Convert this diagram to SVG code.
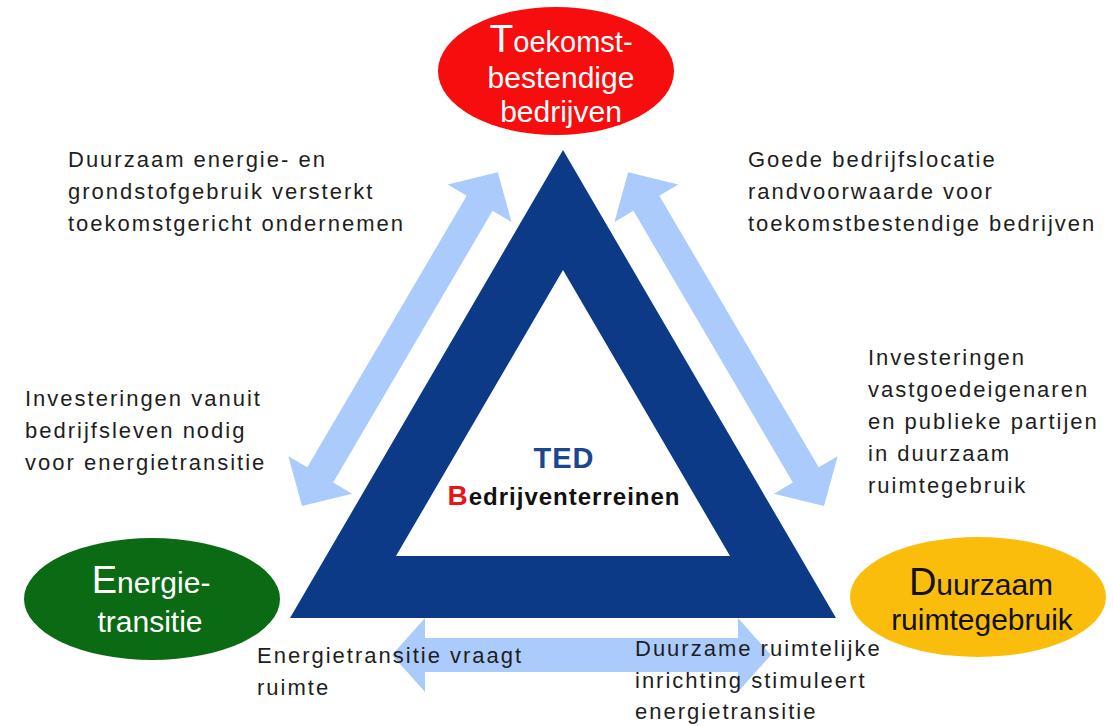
<svg xmlns="http://www.w3.org/2000/svg" width="1113" height="726" viewBox="0 0 1113 726">
  <style>
    .arrow { fill: #abcbfc; }
    .ann { font-family: "Liberation Sans", Arial, sans-serif; font-size: 22px; letter-spacing: 2px; fill: #1e1e1e; }
    .lbl { font-family: "Liberation Sans", Arial, sans-serif; font-size: 30px; text-anchor: middle; }
  </style>
  <rect width="1113" height="726" fill="#ffffff"/>

  <g id="connectors">
    <polygon class="arrow" transform="translate(302,506) rotate(-59.6)" points="0,0 36,-37 36,-15 351,-15 351,-37 387,0 351,37 351,15 36,15 36,37"/>
    <polygon class="arrow" transform="translate(824,506) rotate(-120.4)" points="0,0 36,-37 36,-15 351,-15 351,-37 387,0 351,37 351,15 36,15 36,37"/>
    <polygon class="arrow" transform="translate(392,655)" points="0,0 33,-37 33,-17 346,-17 346,-37 379,0 346,37 346,17 33,17 33,37"/>
  </g>

  <g id="ted-triangle">
    <path fill="#0c3a87" fill-rule="evenodd" d="M563,150 L836,618 L290,618 Z M563,270 L396,556 L730,556 Z"/>
    <text x="564" y="468" font-family="'Liberation Sans', Arial, sans-serif" font-size="29" font-weight="bold" fill="#1b4791" text-anchor="middle" letter-spacing="1">TED</text>
    <text x="564" y="505" font-family="'Liberation Sans', Arial, sans-serif" font-weight="bold" text-anchor="middle" letter-spacing="1"><tspan font-size="28" fill="#e8161b">B</tspan><tspan font-size="24" fill="#111">edrijventerreinen</tspan></text>
  </g>

  <g id="node-toekomst">
    <ellipse cx="556" cy="71" rx="118" ry="64" fill="#f70d0d"/>
    <text class="lbl" fill="#ffffff" x="561" y="52"><tspan font-size="39">T</tspan><tspan font-size="29">oekomst-</tspan></text>
    <text class="lbl" fill="#ffffff" x="561" y="88" font-size="29">bestendige</text>
    <text class="lbl" fill="#ffffff" x="561" y="122" font-size="29">bedrijven</text>
  </g>

  <g id="node-energie">
    <ellipse cx="152" cy="599" rx="128" ry="61" fill="#0b6a14"/>
    <text class="lbl" fill="#ffffff" x="151" y="593"><tspan font-size="38">E</tspan><tspan font-size="30">nergie-</tspan></text>
    <text class="lbl" fill="#ffffff" x="150" y="632">transitie</text>
  </g>

  <g id="node-duurzaam">
    <ellipse cx="978" cy="597" rx="128" ry="60" fill="#fbbd0c"/>
    <text class="lbl" fill="#111111" x="981" y="595"><tspan font-size="38">D</tspan><tspan font-size="30">uurzaam</tspan></text>
    <text class="lbl" fill="#111111" x="982" y="630">ruimtegebruik</text>
  </g>

  <g id="labels">
    <text class="ann" x="68" y="167">Duurzaam energie- en<tspan x="68" y="199">grondstofgebruik versterkt</tspan><tspan x="68" y="231">toekomstgericht ondernemen</tspan></text>
    <text class="ann" x="25" y="406">Investeringen vanuit<tspan x="25" y="438">bedrijfsleven nodig</tspan><tspan x="25" y="470">voor energietransitie</tspan></text>
    <text class="ann" x="748" y="167">Goede bedrijfslocatie<tspan x="748" y="199">randvoorwaarde voor</tspan><tspan x="748" y="231">toekomstbestendige bedrijven</tspan></text>
    <text class="ann" x="868" y="365">Investeringen<tspan x="868" y="397">vastgoedeigenaren</tspan><tspan x="868" y="429">en publieke partijen</tspan><tspan x="868" y="461">in duurzaam</tspan><tspan x="868" y="493">ruimtegebruik</tspan></text>
    <text class="ann" x="257" y="663">Energietransitie vraagt<tspan x="257" y="695">ruimte</tspan></text>
    <text class="ann" x="635" y="656">Duurzame ruimtelijke<tspan x="635" y="688">inrichting stimuleert</tspan><tspan x="635" y="719">energietransitie</tspan></text>
  </g>
</svg>
